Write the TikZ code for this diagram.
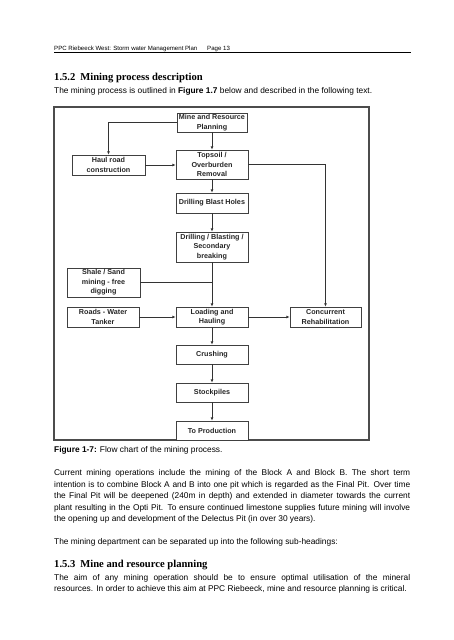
\documentclass[tikz,border=0pt]{standalone}
\usepackage{fontspec}
\setmainfont{Liberation Sans}
\newfontfamily\serifH{Liberation Serif}
\usetikzlibrary{arrows.meta}
\begin{document}
\begin{tikzpicture}[x=1pt,y=-1pt,
  box/.style={draw=black!75, line width=0.7pt, fill=white, align=center, inner sep=0pt,
    minimum width=72pt, minimum height=20pt,
    font=\bfseries\fontsize{7.2}{9.6}\selectfont, text=black!85},
  link/.style={draw=black!80, line width=0.7pt},
  arr/.style={link, -{Latex[length=3.2pt,width=2.8pt]}},
  body/.style={anchor=base west, inner sep=0pt, font=\fontsize{8.35}{11.5}\selectfont},
  head/.style={anchor=base west, inner sep=0pt, font=\serifH\bfseries\fontsize{10.6}{12}\selectfont},
  hdr/.style={anchor=base west, inner sep=0pt, font=\fontsize{6.1}{7}\selectfont},
]
\useasboundingbox[fill=white] (0,0) rectangle (453,640);

% page header
\node[hdr] (hdrl) at (54,50) {PPC Riebeeck West: Storm water Management Plan};
\node[hdr] (hdrr) at (207,50) {Page 13};
\draw[line width=0.8pt] (54,52.8) -- (411,52.8);

\node[head] (h152) at (54,80.8) {1.5.2\hspace{5pt}Mining process description};
\node[body] (intro) at (54,93) {The mining process is outlined in \textbf{Figure 1.7} below and described in the following text.};

% figure frame
\draw[draw=black!70, line width=1.1pt] (54,107) rectangle (369,440);

% flow chart boxes
\node[box, minimum width=70pt, minimum height=19pt] (mine) at (212,122.5) {Mine and Resource\\Planning};
\node[box, minimum width=73pt] (haul) at (108.5,165) {Haul road\\construction};
\node[box, minimum height=29pt] (top) at (212,164.5) {Topsoil /\\Overburden\\Removal};
\node[box] (dbh) at (212,203) {Drilling Blast Holes};
\node[box, minimum height=30pt] (dbs) at (212,247) {Drilling / Blasting /\\Secondary\\breaking};
\node[box, minimum width=73pt, minimum height=29pt] (shale) at (103.5,282.5) {Shale / Sand\\mining - free\\digging};
\node[box] (roads) at (103,317) {Roads - Water\\Tanker};
\node[box] (load) at (212,317) {Loading and\\Hauling};
\node[box, minimum width=71pt] (conc) at (325.5,317) {Concurrent\\Rehabilitation};
\node[box, minimum height=19pt] (crush) at (212,354.5) {Crushing};
\node[box, minimum height=19pt] (stock) at (212,392.5) {Stockpiles};
\node[box, minimum height=19pt] (prod) at (212,430.5) {To Production};

% connectors
\draw[arr] (mine) -- (top);
\draw[arr] (mine.west) -| (haul.north);
\draw[arr] (haul.east) -- (haul.east -| top.west);
\draw[arr] (top.east) -| (conc.north);
\draw[arr] (top) -- (dbh);
\draw[arr] (dbh) -- (dbs);
\draw[arr] (dbs) -- (load);
\draw[link] (shale.east) -- (shale.east -| dbs.south);
\draw[arr] (roads) -- (load);
\draw[arr] (load) -- (conc);
\draw[arr] (load) -- (crush);
\draw[arr] (crush) -- (stock);
\draw[arr] (stock) -- (prod);

% caption and text
\node[body] (cap) at (54,452.5) {\textbf{Figure 1-7:} Flow chart of the mining process.};

\node[body] (p1a) at (54,475.5) {\makebox[356pt][s]{Current mining operations include the mining of the Block A and Block B.  The short term}};
\node[body] (p1b) at (54,487) {\makebox[356pt][s]{intention is to combine Block A and B into one pit which is regarded as the Final Pit.  Over time}};
\node[body] (p1c) at (54,498.5) {\makebox[356pt][s]{the Final Pit will be deepened (240m in depth) and extended in diameter towards the current}};
\node[body] (p1d) at (54,510) {\makebox[356pt][s]{plant resulting in the Opti Pit.  To ensure continued limestone supplies future mining will involve}};
\node[body] (p1e) at (54,521.5) {the opening up and development of the Delectus Pit (in over 30 years).};

\node[body] (p2) at (54,544.5) {The mining department can be separated up into the following sub-headings:};

\node[head] (h153) at (54,567.5) {1.5.3\hspace{5pt}Mine and resource planning};

\node[body] (p3a) at (54,580) {\makebox[356pt][s]{The aim of any mining operation should be to ensure optimal utilisation of the mineral}};
\node[body] (p3b) at (54,591.5) {resources.  In order to achieve this aim at PPC Riebeeck, mine and resource planning is critical.};
\end{tikzpicture}
\end{document}
